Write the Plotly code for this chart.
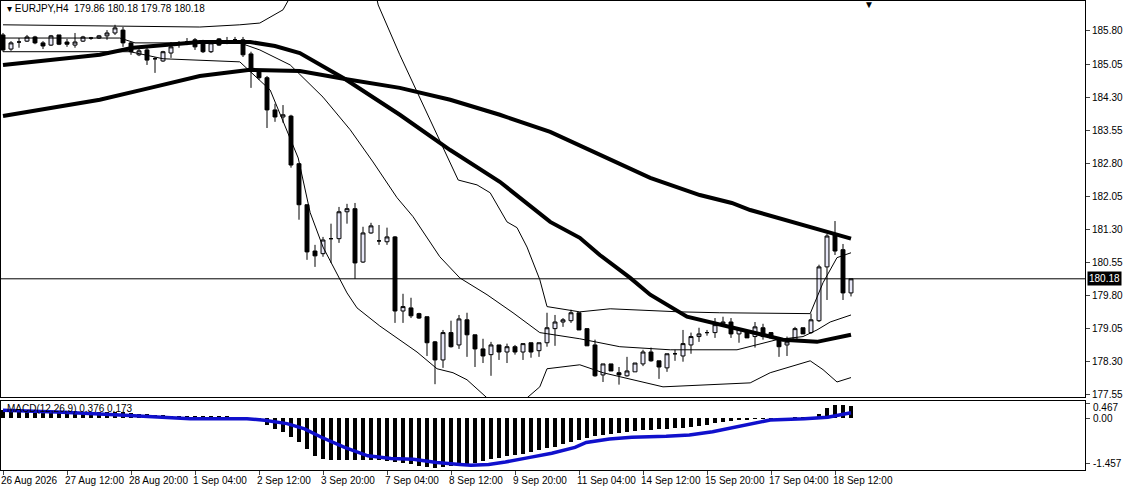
import plotly.graph_objects as go

# ---- candle data (H4 bars, index 0..106) ----
opens = [185.71,185.39,185.55,185.57,185.665,185.53,185.48,185.71,185.55,185.48,
         185.57,185.64,185.64,185.69,185.755,185.82,185.53,185.26,185.37,185.17,
         185.12,185.30,185.50,185.55,185.60,185.55,185.33,185.62,185.57,185.60,
         185.60,185.28,184.92,184.74,184.01,183.85,183.87,182.79,181.86,180.81,
         180.75,181.09,181.09,181.70,181.77,180.56,181.22,181.04,181.02,181.13,
         179.45,179.52,179.39,179.32,178.75,178.34,178.96,178.68,179.25,178.91,
         178.59,178.46,178.68,178.52,178.64,178.52,178.73,178.55,178.73,179.05,
         179.20,179.23,179.41,179.05,178.68,178.00,178.25,178.05,177.98,178.07,
         178.25,178.52,178.32,178.16,178.48,178.43,178.68,178.87,178.96,178.96,
         179.16,179.20,178.93,179.00,178.87,179.07,178.96,178.84,178.68,178.80,
         179.07,178.96,179.23,180.45,181.18,180.84,179.86]
highs = [185.755,185.57,185.64,185.71,185.69,185.57,185.71,185.71,185.62,185.755,
         185.69,185.665,185.71,185.82,185.94,185.89,185.55,185.42,185.42,185.21,
         185.35,185.55,185.57,185.64,185.64,185.60,185.57,185.64,185.665,185.665,
         185.665,185.33,184.92,184.78,184.15,184.12,183.90,182.79,181.86,180.95,
         181.13,181.43,181.81,181.88,181.90,181.36,181.45,181.40,181.34,181.15,
         179.84,179.75,179.41,179.32,178.77,179.02,179.23,179.36,179.41,178.91,
         178.82,178.75,178.68,178.71,178.68,178.71,178.73,178.73,179.41,179.36,
         179.29,179.48,179.41,179.05,178.80,178.25,178.25,178.18,178.41,178.27,
         178.57,178.62,178.32,178.48,178.57,179.02,178.96,179.07,179.02,179.29,
         179.32,179.29,179.05,179.00,179.20,179.16,178.96,178.84,178.87,179.09,
         179.07,179.39,180.50,181.20,181.49,180.97,180.18]
lows = [185.33,185.35,185.42,185.55,185.50,185.39,185.46,185.48,185.44,185.42,
        185.55,185.60,185.62,185.60,185.71,185.44,185.26,185.23,185.03,184.85,
        185.10,185.19,185.42,185.48,185.37,185.30,185.30,185.46,185.50,185.53,
        185.21,184.51,184.69,183.60,183.74,183.72,182.70,181.52,180.61,180.45,
        180.68,180.54,180.995,181.43,180.18,180.54,181.20,180.95,180.95,179.18,
        179.18,179.29,179.27,178.43,177.79,178.16,178.62,178.59,178.41,178.18,
        178.27,177.98,178.34,178.27,178.46,178.34,178.39,178.41,178.64,178.66,
        179.09,179.18,179.02,178.66,177.96,177.84,178.09,177.78,177.96,178.07,
        178.20,178.30,177.91,178.07,178.32,178.30,178.48,178.75,178.89,178.84,
        179.14,178.84,178.73,178.84,178.62,178.80,178.84,178.41,178.43,178.77,
        178.93,178.93,179.20,179.70,180.72,179.70,179.78]
closes = [185.37,185.53,185.55,185.665,185.53,185.46,185.69,185.50,185.50,185.55,
          185.665,185.64,185.69,185.755,185.87,185.53,185.33,185.35,185.14,185.17,
          185.33,185.44,185.50,185.55,185.44,185.33,185.53,185.48,185.57,185.60,
          185.26,184.92,184.74,184.01,183.85,183.90,182.76,181.86,180.79,180.70,
          181.06,181.09,181.70,181.77,180.54,181.22,181.38,181.04,181.13,179.45,
          179.55,179.34,179.29,178.73,178.34,178.96,178.64,179.27,178.91,178.59,
          178.43,178.68,178.52,178.64,178.52,178.71,178.52,178.73,179.07,179.20,
          179.25,179.41,179.02,178.66,177.98,178.25,178.09,178.00,178.09,178.27,
          178.52,178.32,178.18,178.48,178.48,178.71,178.87,178.93,178.96,179.14,
          179.20,178.93,179.05,178.84,179.09,178.87,178.84,178.64,178.75,179.05,
          178.93,179.25,180.45,181.15,180.81,179.86,180.18]

# ---- moving averages / bands, read at sampled bar positions ----
ma_fast_idx = [0,12.1,16.25,24.6,30.9,34,37.1,42.75,49.6,55.9,62.1,68.4,72.1,74.6,78.4,80.9,85.5,89.6,93.4,97.5,101.75,106]
ma_fast_val = [185.03,185.26,185.42,185.55,185.55,185.46,185.30,184.71,183.90,183.10,182.38,181.47,181.11,180.72,180.20,179.82,179.32,179.14,178.96,178.80,178.75,178.91]
ma_slow_idx = [0,5.9,12.1,18.4,24.6,30.9,37.1,42.75,49.6,55.9,62.1,68.4,74.6,80.9,87.1,91.1,93.4,99.6,102.1,106]
ma_slow_val = [183.87,184.055,184.24,184.51,184.78,184.92,184.89,184.71,184.51,184.24,183.90,183.51,182.99,182.47,182.08,181.90,181.74,181.43,181.29,181.09]
bb_up_idx = [0,12.1,24.6,29.6,32.1,35,37.1,40.9,44,46.9,49.6,53.4,56.9,59.25,60.9,63,64.25,65.5,67.1,68,72.1,75.9,84.6,89.6,100.9,102.5,104.25,106]
bb_up_val = [185.94,185.91,185.89,185.94,185.98,186.28,186.96,189.22,188.77,186.39,185.26,183.78,182.42,182.31,182.13,181.47,181.34,180.90,180.16,179.55,179.43,179.50,179.43,179.41,179.39,180.09,180.66,180.77]
bb_mid_idx = [0,14.6,16.5,29.6,32.1,35.9,40,43.4,46.25,49.25,51.25,54.6,57.1,60.5,63.75,67.1,72.1,77.1,83.4,91.75,96.75,100,101.75,103.4,106]
bb_mid_val = [185.64,185.64,185.53,185.53,185.37,185.03,184.30,183.56,182.83,182.02,181.59,180.68,180.20,179.82,179.41,178.96,178.82,178.64,178.57,178.57,178.80,178.87,179.02,179.20,179.36]
bb_lo_idx = [0,15.9,20,29.6,33.4,36.9,38.4,40,43,44.25,47.1,49.25,51.75,54.25,56.25,58,60.5,62.75,65.5,67.1,68,72.1,75,82.5,93.4,95.9,100.9,102.5,104.25,106]
bb_lo_val = [185.33,185.33,185.17,185.10,184.46,182.92,181.68,180.90,179.86,179.52,179.11,178.84,178.52,178.14,178.05,177.89,177.48,177.21,177.48,177.73,178.14,178.23,178.05,177.73,177.82,178.05,178.32,178.12,177.84,177.94]

# ---- MACD ----
macd_hist = [0.27,0.26,0.26,0.25,0.25,0.24,0.24,0.23,0.22,0.22,
             0.21,0.20,0.20,0.19,0.19,0.18,0.16,0.14,0.12,0.10,
             0.09,0.08,0.07,0.06,0.06,0.05,0.05,0.04,0.04,0.03,0.02,0.0,
             -0.08,-0.24,-0.35,-0.44,-0.62,-0.79,-1.0,-1.22,-1.33,-1.36,-1.36,-1.36,-1.36,-1.36,
             -1.37,-1.37,-1.39,-1.42,-1.45,-1.5,-1.55,-1.58,-1.61,-1.6,-1.56,-1.52,-1.48,-1.44,
             -1.39,-1.33,-1.28,-1.24,-1.2,-1.15,-1.1,-1.05,-0.98,-0.93,-0.85,-0.77,-0.7,-0.64,
             -0.58,-0.55,-0.51,-0.48,-0.46,-0.43,-0.40,-0.38,-0.36,-0.35,-0.33,-0.31,-0.30,-0.26,
             -0.21,-0.17,-0.13,-0.10,-0.07,-0.05,-0.03,-0.02,-0.01,-0.01,0.0,0.01,0.01,0.03,
             0.14,0.31,0.42,0.42,0.376]
sig_idx = [0,6.8,14,21,23.4,30.5,32.7,35.5,37.7,39.8,42.7,45.6,48.5,51.3,54.2,57.1,58.5,60.7,62.8,65.7,68.6,71.5,72.9,75.8,78.6,82.9,85.8,88.7,91.6,94.5,95.9,100.2,103.1,106]
sig_val = [0.25,0.20,0.11,0.03,-0.02,-0.02,-0.07,-0.18,-0.35,-0.62,-0.95,-1.22,-1.31,-1.33,-1.44,-1.50,-1.53,-1.50,-1.42,-1.28,-1.14,-0.95,-0.79,-0.68,-0.62,-0.59,-0.55,-0.44,-0.29,-0.13,-0.06,-0.02,0.03,0.173]

price_ticks = [185.80,185.05,184.30,183.55,182.80,182.05,181.30,180.55,179.80,179.05,178.30,177.55]
macd_ticks = [0.467,0.0,-1.457]
macd_tick_text = ["0.467","0.00","-1.457"]
time_labels = ["26 Aug 2026","27 Aug 12:00","28 Aug 20:00","1 Sep 04:00","2 Sep 12:00","3 Sep 20:00",
               "7 Sep 04:00","8 Sep 12:00","9 Sep 20:00","11 Sep 04:00","14 Sep 12:00","15 Sep 20:00",
               "17 Sep 04:00","18 Sep 12:00"]
time_label_idx = [0,8,16,24,32,40,48,56,64,72,80,88,96,104]
last_price = 180.18

idx = list(range(len(opens)))
FONT = "Liberation Sans"

fig = go.Figure()
fig.add_trace(go.Candlestick(x=idx, open=opens, high=highs, low=lows, close=closes,
    increasing=dict(line=dict(color="black", width=1), fillcolor="#e8e8f8"),
    decreasing=dict(line=dict(color="black", width=1), fillcolor="black"),
    whiskerwidth=0, xaxis="x", yaxis="y", showlegend=False, hoverinfo="skip"))
for xi, yv, w in [(bb_up_idx, bb_up_val, 1), (bb_mid_idx, bb_mid_val, 1), (bb_lo_idx, bb_lo_val, 1),
                  (ma_fast_idx, ma_fast_val, 4), (ma_slow_idx, ma_slow_val, 4)]:
    fig.add_trace(go.Scatter(x=xi, y=yv, mode="lines", line=dict(color="black", width=w),
                             xaxis="x", yaxis="y", showlegend=False, hoverinfo="skip"))
fig.add_trace(go.Bar(x=idx, y=macd_hist, marker=dict(color="black", line=dict(width=0)), width=0.5,
                     xaxis="x2", yaxis="y2", showlegend=False))
fig.add_trace(go.Scatter(x=sig_idx, y=sig_val, mode="lines", line=dict(color="#1010cc", width=3.5),
                         xaxis="x2", yaxis="y2", showlegend=False))

xr = [-0.25, 135.25]
fig.update_layout(
    width=1127, height=493, margin=dict(l=1, r=42, t=1, b=23),
    paper_bgcolor="white", plot_bgcolor="white", bargap=0,
    font=dict(family=FONT, size=10, color="black"),
    xaxis=dict(domain=[0,1], range=xr, showgrid=False, showticklabels=False, rangeslider=dict(visible=False),
               showline=True, mirror=True, linecolor="black", linewidth=1, zeroline=False, anchor="y"),
    yaxis=dict(domain=[0.1557,1], range=[177.50,186.48], side="right", tickvals=price_ticks,
               ticktext=[f"{v:.2f}" for v in price_ticks], ticks="outside", ticklen=4, showgrid=False,
               showline=True, mirror=True, linecolor="black", zeroline=False, tickfont=dict(size=10)),
    xaxis2=dict(domain=[0,1], range=xr, anchor="y2", showgrid=False, tickvals=time_label_idx,
                ticktext=[""]*len(time_label_idx), ticks="outside", ticklen=4,
                showline=True, mirror=True, linecolor="black", zeroline=False),
    yaxis2=dict(domain=[0,0.147], range=[-1.68,0.55], side="right", tickvals=macd_ticks,
                ticktext=[""]*len(macd_ticks), ticks="outside", ticklen=4, showgrid=False,
                showline=True, mirror=True, linecolor="black", zeroline=False),
)
for v, t, ys in zip(macd_ticks, macd_tick_text, [-4, 0, 0]):
    fig.add_annotation(x=1, xref="paper", y=v, yref="y2", text=t, showarrow=False, xanchor="left",
                       xshift=6, yshift=ys, font=dict(size=10))
fig.add_hline(y=last_price, line=dict(color="black", width=1), xref="x", yref="y")
fig.add_annotation(x=1, xref="paper", y=last_price, yref="y", text="180.18", showarrow=False,
                   xanchor="left", bgcolor="black", font=dict(color="white", size=10), borderpad=1, xshift=2)
fig.add_annotation(x=0.004, xref="paper", y=1, yref="paper", yanchor="top", xanchor="left", showarrow=False,
                   text="▾ EURJPY,H4  179.86 180.18 179.78 180.18", font=dict(size=10))
fig.add_annotation(x=108.3, xref="x", y=1, yref="paper", yanchor="top", showarrow=False, text="▼",
                   font=dict(size=10), yshift=4)
fig.add_annotation(x=0.004, xref="paper", y=0.147, yref="paper", yanchor="top", xanchor="left", showarrow=False,
                   text="MACD(12,26,9) 0.376 0.173", font=dict(size=10))
for i, t in zip(time_label_idx, time_labels):
    fig.add_annotation(x=i, xref="x2", y=0, yref="paper", yanchor="top", xanchor="left", showarrow=False,
                       text=t, font=dict(size=10), yshift=-3, xshift=-4)

fig.write_html("out.html", config={"displayModeBar": False},
               post_script="document.body.style.margin='0';document.body.style.overflow='hidden';")
